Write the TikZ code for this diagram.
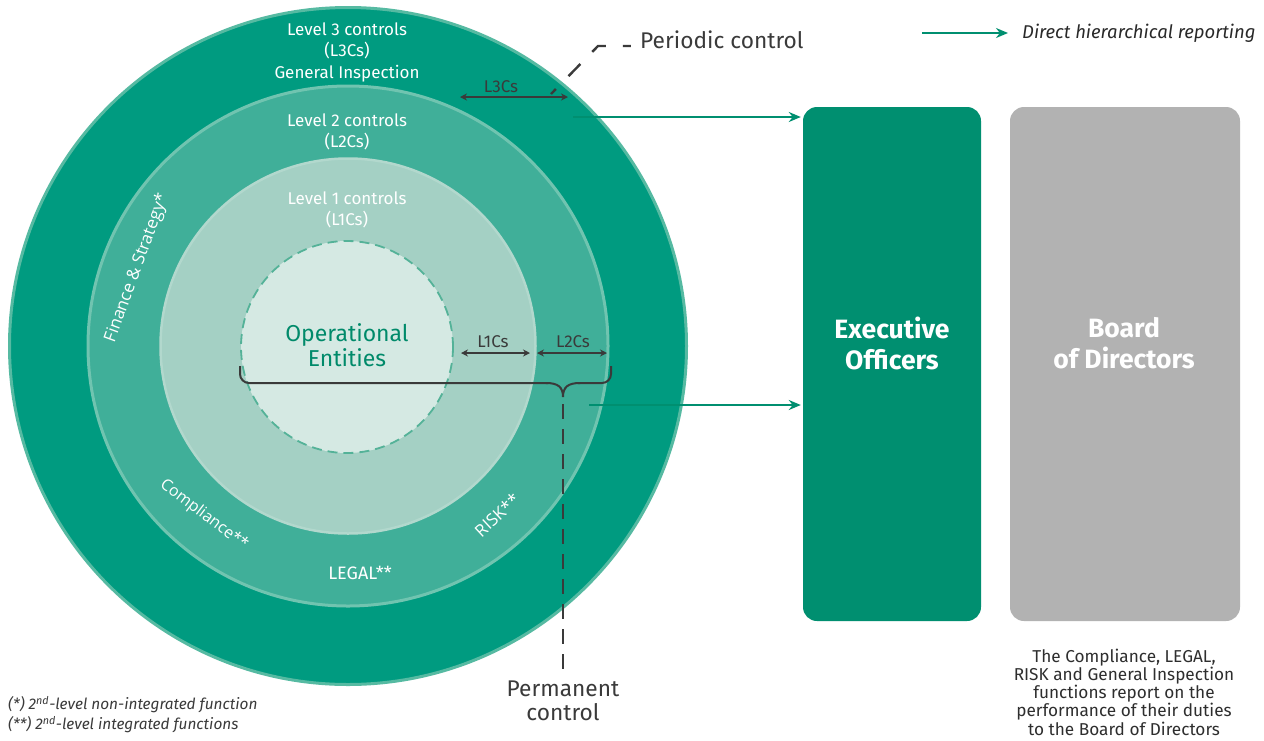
\documentclass[tikz,border=0pt]{standalone}
\usepackage{fontspec}
\setmainfont{Fira Sans}
\newfontfamily\widefont{Open Sans}
\usetikzlibrary{arrows.meta}
\definecolor{outerG}{RGB}{0,155,128}
\definecolor{outerE}{RGB}{86,186,162}
\definecolor{ltwoG}{RGB}{64,175,153}
\definecolor{ltwoE}{RGB}{112,196,176}
\definecolor{loneG}{RGB}{164,208,196}
\definecolor{loneE}{RGB}{178,216,205}
\definecolor{opG}{RGB}{213,233,227}
\definecolor{opE}{RGB}{84,178,152}
\definecolor{execG}{RGB}{0,143,112}
\definecolor{boardG}{RGB}{178,178,178}
\definecolor{arrG}{RGB}{0,143,112}
\definecolor{opT}{RGB}{0,138,106}
\definecolor{darkT}{RGB}{58,58,58}
\begin{document}
\begin{tikzpicture}[x=1pt,y=-1pt,
  ringtext/.style={text=white,align=center,font=\fontsize{17}{21.5}\selectfont,inner sep=0pt},
  arctext/.style={text=white,font=\widefont\fontsize{17}{19}\selectfont,inner sep=0pt},
  dimtext/.style={text=darkT,font=\fontsize{17}{18}\selectfont,inner sep=0pt},
  dimarrow/.style={draw=darkT,line width=1.6pt,{Stealth[length=7pt,width=7pt]}-{Stealth[length=7pt,width=7pt]}},
  reparrow/.style={draw=arrG,line width=2pt,-{Stealth[length=12pt,width=10pt]}},
  ctrldash/.style={draw=darkT,line width=2.4pt},
  bigtext/.style={text=darkT,align=center,font=\fontsize{22.7}{24.5}\selectfont,inner sep=0pt},
  boxtext/.style={text=white,align=center,font=\bfseries\fontsize{26.5}{31}\selectfont,inner sep=0pt},
  bigbox/.style={rounded corners=14pt,minimum width=#1,minimum height=514pt,inner sep=0pt},
]
\useasboundingbox (0,0) rectangle (1264,740);
\fill[white] (0,0) rectangle (1264,740);

% circles
\node[circle,fill=outerG,draw=outerE,line width=3pt,minimum size=677pt,inner sep=0pt] (outer) at (348,346) {};
\node[circle,fill=ltwoG,draw=ltwoE,line width=3pt,minimum size=520pt,inner sep=0pt] (ltwo) at (348,346) {};
\node[circle,fill=loneG,draw=loneE,line width=2.5pt,minimum size=375pt,inner sep=0pt] (lone) at (348,346) {};
\node[circle,fill=opG,draw=opE,line width=1.8pt,dash pattern=on 10pt off 6pt,minimum size=212pt,inner sep=0pt] (op) at (347,347) {};

% ring labels
\node[ringtext] (l3t) at (347,52) {Level 3 controls\\(L3Cs)\\General Inspection};
\node[ringtext] (l2t) at (347,132) {Level 2 controls\\(L2Cs)};
\node[ringtext] (l1t) at (347,210) {Level 1 controls\\(L1Cs)};
\node[text=opT,align=center,font=\fontsize{23}{25.5}\selectfont,inner sep=0pt] (opt) at (347,345) {Operational\\Entities};

\node[arctext,rotate=70] (fin) at (137,268) {Finance \& Strategy*};
\node[arctext,rotate=-37,font=\widefont\fontsize{16}{17}\selectfont] (comp) at (204,515) {Compliance**};
\node[ringtext,font=\fontsize{18}{19}\selectfont] (legal) at (360,573) {LEGAL**};
\node[arctext,rotate=43] (risk) at (497,515) {RISK**};

% dimension arrows
\coordinate (d3a) at (460,97); \coordinate (d3b) at (568,97);
\draw[dimarrow] (d3a) -- (d3b);
\node[dimtext] (d3t) at (501,87) {L3Cs};
\coordinate (d1a) at (461,353); \coordinate (d1b) at (530,353);
\draw[dimarrow] (d1a) -- (d1b);
\node[dimtext] (d1t) at (493,342) {L1Cs};
\coordinate (d2a) at (537,353); \coordinate (d2b) at (607,353);
\draw[dimarrow] (d2a) -- (d2b);
\node[dimtext] (d2t) at (573,342) {L2Cs};

% brace
\coordinate (brL) at (240,366);
\coordinate (brR) at (611,366);
\coordinate (brT) at (563,397);
\draw[darkT,line width=2pt,rounded corners=9pt] (brL) |- (548,383);
\draw[darkT,line width=2pt] (546,383) .. controls (558,383) and (563,387) .. (brT)
   .. controls (563,387) and (568,383) .. (580,383);
\draw[darkT,line width=2pt,rounded corners=9pt] (578,383) -| (brR);

% permanent control
\node[bigtext] (perm) at (563,701) {Permanent\\control};
\coordinate (pd0) at (563,404);
\coordinate (pd1) at (563,672);
\draw[ctrldash,dash pattern=on 15pt off 10pt] (pd0) -- (pd1);

% periodic control
\node[bigtext,anchor=west] (peri) at (640,40) {Periodic control};
\coordinate (pc0) at (551,94);
\coordinate (pc1) at (598,46);
\coordinate (pc2) at (631,46);
\draw[ctrldash,dash pattern=on 7pt off 18pt on 17pt off 17pt on 16pt off 17pt on 8pt off 20pt] (pc0) -- (pc1) -- (pc2);

% boxes
\node[bigbox=178pt,fill=execG] (exec) at (892,364) {};
\node[bigbox=230pt,fill=boardG] (board) at (1125,364) {};
\node[boxtext] (exect) at (892,343) {Executive\\Officers};
\node[boxtext] (boardt) at (1124,343) {Board\\of Directors};

% reporting arrows
\coordinate (r1) at (573,117);
\coordinate (r2) at (589,405);
\draw[reparrow,shorten >=2pt] (r1) -- (exec.west |- r1);
\draw[reparrow,shorten >=2pt] (r2) -- (exec.west |- r2);

% legend
\coordinate (lg0) at (922,33);
\coordinate (lg1) at (1008,33);
\draw[reparrow] (lg0) -- (lg1);
\node[anchor=west,text=darkT!70!black,font=\itshape\fontsize{18.5}{19}\selectfont,inner sep=0pt] (lgt) at (1022,33) {Direct hierarchical reporting};

% bottom note
\node[text=darkT!80!black,align=center,font=\fontsize{17.2}{18.3}\selectfont,inner sep=0pt] (note) at (1124,692)
 {The Compliance, LEGAL,\\RISK and General Inspection\\functions report on the\\performance of their duties\\to the Board of Directors};

% footnotes
\node[anchor=west,text=darkT,font=\itshape\fontsize{15.4}{17}\selectfont,inner sep=0pt] (fn1) at (8,705) {(*) 2\textsuperscript{nd}-level non-integrated function};
\node[anchor=west,text=darkT,font=\itshape\fontsize{15.4}{17}\selectfont,inner sep=0pt] (fn2) at (8,725) {(**) 2\textsuperscript{nd}-level integrated functions};
\end{tikzpicture}
\end{document}
